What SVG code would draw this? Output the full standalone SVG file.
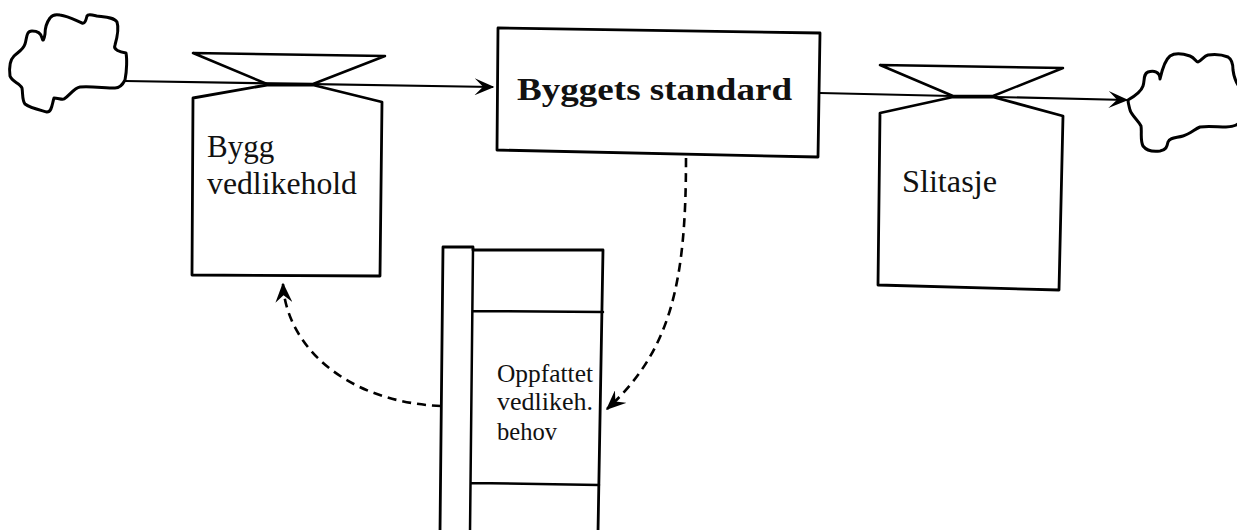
<svg xmlns="http://www.w3.org/2000/svg" width="1237" height="530" viewBox="0 0 1237 530">
<defs>
<style>
.ln{fill:none;stroke:#000;stroke-width:2.5;stroke-linejoin:round;stroke-linecap:round}
.box{fill:#fff;stroke:#000;stroke-width:2.8;stroke-linejoin:round}
.flow{fill:none;stroke:#000;stroke-width:2.2}
.dash{fill:none;stroke:#000;stroke-width:2.6;stroke-dasharray:9 6}
.cloud{fill:#fff;stroke:#000;stroke-width:3;stroke-linejoin:round}
.t{font-family:"Liberation Serif","Times New Roman",serif;fill:#111}
</style>
<marker id="ah" viewBox="0 0 14 12" refX="13" refY="6" markerWidth="20" markerHeight="17" markerUnits="userSpaceOnUse" orient="auto">
<path d="M0,0 L14,6 L0,12 L5,6 z" fill="#000"/>
</marker>
<marker id="fh" viewBox="0 0 14 12" refX="13" refY="6" markerWidth="20" markerHeight="17" markerUnits="userSpaceOnUse" orient="auto">
<path d="M0,0 L14,6 L0,12 L6,6 z" fill="#000"/>
</marker>
</defs>
<rect width="1237" height="530" fill="#fff"/>

<g id="connectors">
<path class="flow" d="M125,81 L493,87" marker-end="url(#fh)"/>
<path class="flow" d="M820,93 L1127,100" marker-end="url(#fh)"/>
<path class="dash" d="M686,158 C686,280 672,350 607,409" marker-end="url(#ah)"/>
<path class="dash" d="M441,406 C345,402 286,345 283,284" marker-end="url(#ah)"/>
</g>

<g id="cloud-source">
<path class="cloud" d="M125,80 C127,70 127,58 126,53 C120,52 113,50 115,45 C117,38 119,28 117,22 C114,17 104,17 97,16 C92,15 88,14 87,16 C86,20 85,24 82,23 C75,20 68,16 60,15 C55,14 52,15 50,18 C47,22 45,28 45,34 C44,40 43,42 42,38 C41,33 38,31 32,31 C26,31 27,38 25,44 C23,50 18,52 14,56 C10,60 9,68 10,76 C12,82 20,83 22,88 C23,94 22,100 25,104 C30,108 40,110 47,112 C52,112 52,104 54,98 C58,98 62,100 64,99 C70,95 74,88 80,87 C90,86 105,88 115,88 C120,88 123,84 125,80 Z"/>
</g>

<g id="cloud-sink">
<path class="cloud" d="M1128,100 C1135,96 1141,92 1143,86 C1145,80 1143,74 1148,72 C1154,70 1160,72 1160,79 C1162,70 1165,60 1170,56 C1176,52 1184,54 1190,56 C1195,58 1196,62 1198,62 C1202,60 1204,56 1208,55 C1215,54 1223,55 1228,57 C1233,60 1233,66 1233,70 C1234,78 1237,84 1240,88 L1240,122 C1237,126 1232,127 1226,127 C1218,127 1208,126 1200,127 C1195,129 1190,134 1183,136 C1176,138 1170,137 1168,142 C1167,147 1166,150 1160,151 C1152,152 1146,150 1143,146 C1140,140 1142,132 1141,126 C1138,120 1132,116 1130,110 C1129,106 1128,103 1128,100 Z"/>
</g>

<g id="flow-bygg-vedlikehold">
<path class="ln" d="M193,53 L385,56 L313,84 L267,84 Z"/>
<path class="box" d="M193,98 L267,85 L313,85 L382,102 L380,276 L192,275 Z"/>
<text class="t" x="207" y="157" font-size="31">Bygg</text>
<text class="t" x="207" y="194" font-size="31" textLength="150" lengthAdjust="spacingAndGlyphs">vedlikehold</text>
</g>

<g id="stock-byggets-standard">
<path class="box" d="M498,28 L820,33 L818,157 L497,150 Z"/>
<text class="t" x="517" y="100" font-size="32" font-weight="bold" textLength="275" lengthAdjust="spacingAndGlyphs">Byggets standard</text>
</g>

<g id="flow-slitasje">
<path class="ln" d="M880,65 L1063,68 L993,96 L953,96 Z"/>
<path class="box" d="M880,113 L953,97 L993,97 L1063,116 L1059,290 L878,285 Z"/>
<text class="t" x="902" y="192" font-size="31" textLength="95" lengthAdjust="spacingAndGlyphs">Slitasje</text>
</g>

<g id="oppfattet-vedlikeh-behov">
<path class="box" d="M443,247 L473,247 L473,250 L603,250 L598,532 L440,532 Z"/>
<path class="ln" d="M473,249 L470,532 M473,311 L603,312 M471,483 L599,485"/>
<text class="t" x="497" y="382" font-size="26" textLength="96" lengthAdjust="spacingAndGlyphs">Oppfattet</text>
<text class="t" x="497" y="410" font-size="26" textLength="96" lengthAdjust="spacingAndGlyphs">vedlikeh.</text>
<text class="t" x="497" y="440" font-size="26" textLength="60" lengthAdjust="spacingAndGlyphs">behov</text>
</g>
</svg>
